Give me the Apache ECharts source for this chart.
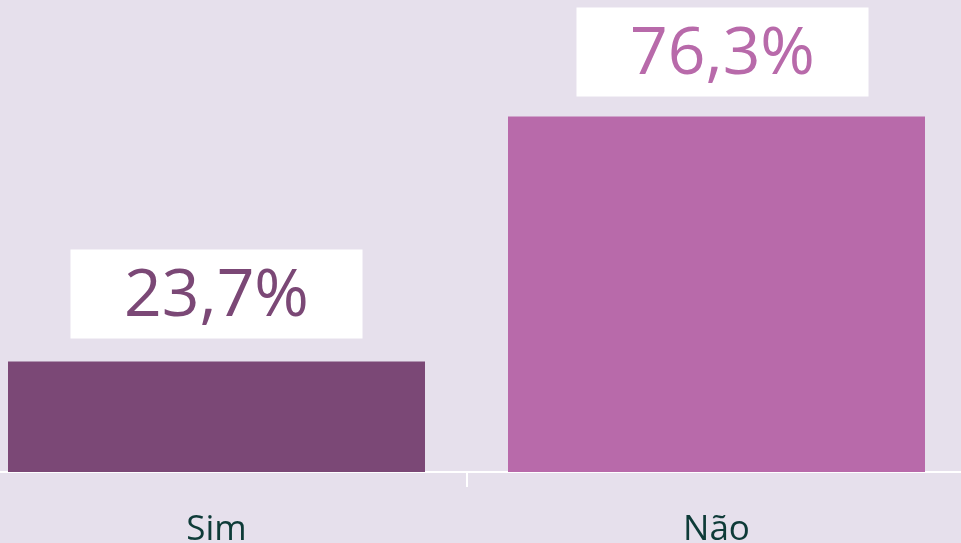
<!DOCTYPE html>
<html>
<head>
<meta charset="utf-8">
<script src="https://cdn.jsdelivr.net/npm/echarts@6/dist/echarts.min.js"></script>
<style>
html, body { margin: 0; padding: 0; background: #E6E0EC; }
#chart { width: 961px; height: 543px; }
</style>
</head>
<body>
<div id="chart"></div>
<script>
// data
const categories = ["Sim", "Não"];
const values = [23.7, 76.3];
const barColors = ["#7B4876", "#B86AAA"];

const chart = echarts.init(document.getElementById("chart"));

chart.setOption({
    backgroundColor: "#E6E0EC",
    animation: false,
    grid: {
        left: -33.5,
        right: -5.5,
        top: 6,
        bottom: 71,
        outerBoundsMode: "none"
    },
    xAxis: {
        type: "category",
        data: categories,
        axisLine: {
            lineStyle: { color: "#FFFFFF", width: 2 }
        },
        axisTick: {
            show: true,
            alignWithLabel: false,
            interval: 0,
            length: 15,
            lineStyle: { color: "#FFFFFF", width: 2 }
        },
        axisLabel: {
            fontFamily: "Open Sans",
            fontSize: 35,
            color: "#0E3B38",
            margin: 41
        }
    },
    yAxis: {
        type: "value",
        min: 0,
        max: 100,
        show: false,
        splitLine: { show: false }
    },
    series: [
        {
            type: "bar",
            barCategoryGap: "16.6%",
            data: values.map((v, i) => ({
                value: v,
                itemStyle: { color: barColors[i] },
                label: i === 1
                    ? { color: barColors[i], distance: 20, offset: [6, 0] }
                    : { color: barColors[i] }
            })),
            label: {
                show: true,
                position: "top",
                distance: 23,
                formatter: p => p.value.toFixed(1).replace(".", ",") + "%",
                fontFamily: "Open Sans",
                fontSize: 66,
                backgroundColor: "#FFFFFF",
                width: 292,
                height: 83,
                lineHeight: 83,
                padding: [6, 0, 0, 0],
                align: "center"
            }
        }
    ]
});
</script>
</body>
</html>
